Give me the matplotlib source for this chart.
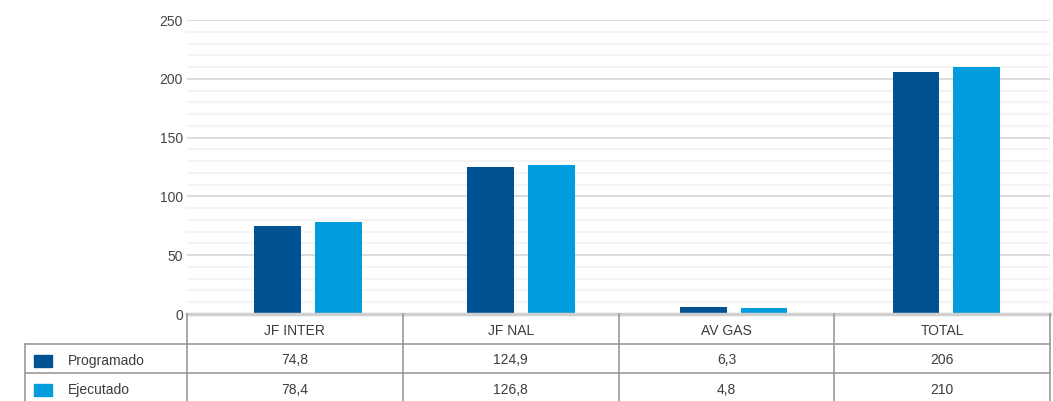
import matplotlib
matplotlib.use("Agg")
import matplotlib.pyplot as plt
import numpy as np

categories = ["JF INTER", "JF NAL", "AV GAS", "TOTAL"]
series_names = ["Programado", "Ejecutado"]
programado = [74.8, 124.9, 6.3, 206]
ejecutado = [78.4, 126.8, 4.8, 210]
programado_labels = ["74,8", "124,9", "6,3", "206"]
ejecutado_labels = ["78,4", "126,8", "4,8", "210"]
yticks = [0, 50, 100, 150, 200, 250]
colors = ["#005293", "#009cde"]

plt.rcParams['font.family'] = ['Liberation Sans', 'DejaVu Sans']

W, H = 1053, 401
fig = plt.figure(figsize=(W / 100, H / 100), dpi=100)

ax_l, ax_r, ax_t, ax_b = 187, 1050, 20, 314
ax = fig.add_axes([ax_l / W, (H - ax_b) / H, (ax_r - ax_l) / W, (ax_b - ax_t) / H])

n = len(categories)
x = np.arange(n)
bw = 0.22
off = 0.143
ax.bar(x - off, programado, width=bw, color=colors[0], zorder=3)
ax.bar(x + off, ejecutado, width=bw, color=colors[1], zorder=3)

ax.set_xlim(-0.569, 3.487)
ax.set_ylim(0, 250)
ax.set_yticks(yticks)
ax.set_yticks(np.arange(0, 251, 10), minor=True)
ax.grid(axis='y', which='minor', color='#f2f2f2', lw=1.2, zorder=0)
ax.grid(axis='y', which='major', color='#d6d6d6', lw=1.2, zorder=1)
ax.tick_params(axis='y', which='both', length=0, labelsize=10, labelcolor='#444444', pad=3)
ax.tick_params(axis='x', which='both', length=0, labelbottom=False)
for s in ax.spines.values():
    s.set_visible(False)
ax.axhline(0, color='#cfcfcf', lw=2.5, zorder=4, clip_on=False)

# table overlay in pixel coordinates
tax = fig.add_axes([0, 0, 1, 1])
tax.set_xlim(0, W)
tax.set_ylim(H, 0)
tax.axis('off')
tax.patch.set_alpha(0)

line_c = '#999999'
row_y = [ax_b, 344, 373, 402]
col_w = (ax_r - ax_l) / n
col_x = [ax_l + i * col_w for i in range(n + 1)]
leg_left = 25

for cx in col_x:
    tax.plot([cx, cx], [ax_b, H], color=line_c, lw=1.2)
tax.plot([leg_left, leg_left], [row_y[1], H], color=line_c, lw=1.2)
for ry in row_y[1:3]:
    tax.plot([leg_left, ax_r], [ry, ry], color=line_c, lw=1.2)

txt_c = '#3c3c3c'
fs = 10
for i, c in enumerate(categories):
    cx = (col_x[i] + col_x[i + 1]) / 2
    tax.text(cx, (row_y[0] + row_y[1]) / 2 + 2, c, ha='center', va='center', fontsize=fs, color=txt_c)
    tax.text(cx, (row_y[1] + row_y[2]) / 2 + 2, programado_labels[i], ha='center', va='center', fontsize=fs, color=txt_c)
    tax.text(cx, (row_y[2] + 401) / 2 + 3, ejecutado_labels[i], ha='center', va='center', fontsize=fs, color=txt_c)

for j, name in enumerate(series_names):
    yc = (row_y[1 + j] + (row_y[2 + j] if j == 0 else 401)) / 2 + (2 if j == 0 else 3)
    tax.add_patch(plt.Rectangle((34, yc - 6), 18, 12, color=colors[j]))
    tax.text(68, yc, name, ha='left', va='center', fontsize=fs, color=txt_c)

fig.savefig("out.png", dpi=100)
